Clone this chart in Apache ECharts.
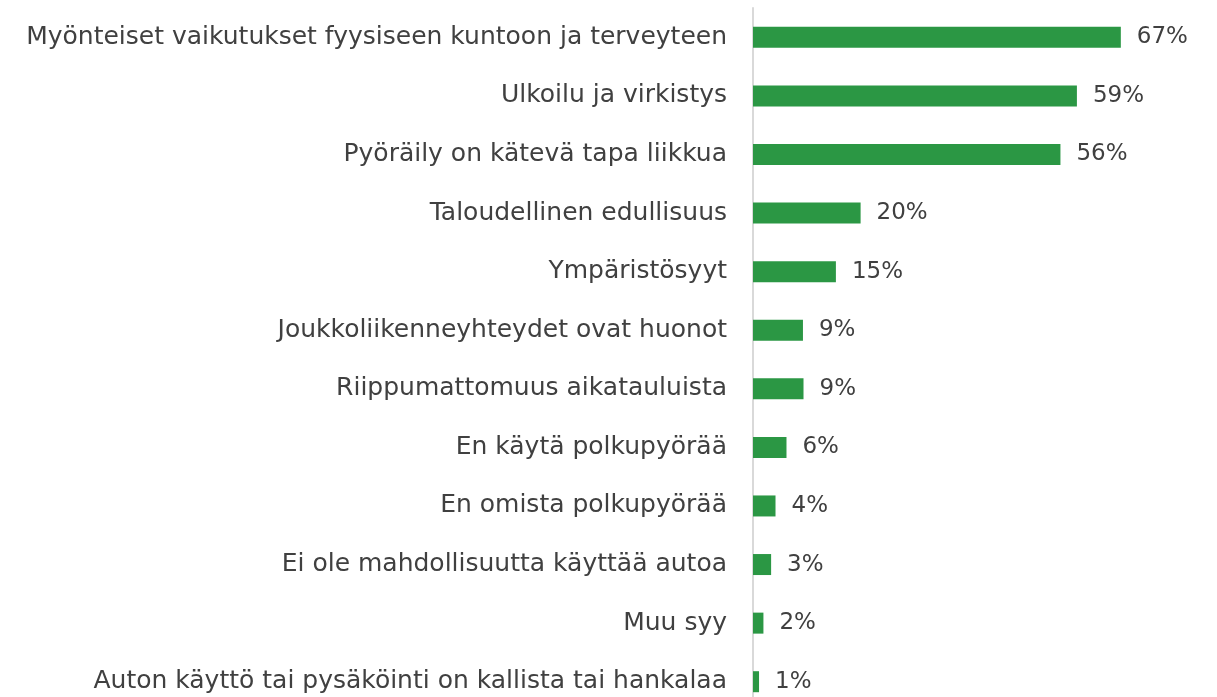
<!DOCTYPE html>
<html>
<head>
<meta charset="utf-8">
<script src="https://cdn.jsdelivr.net/npm/echarts@6/dist/echarts.min.js"></script>
<style>
html, body { margin: 0; padding: 0; background: #fff; }
#main { width: 1217px; height: 697px; }
</style>
</head>
<body>
<div id="main"></div>
<script>
var categories = [
    'Myönteiset vaikutukset fyysiseen kuntoon ja terveyteen',
    'Ulkoilu ja virkistys',
    'Pyöräily on kätevä tapa liikkua',
    'Taloudellinen edullisuus',
    'Ympäristösyyt',
    'Joukkoliikenneyhteydet ovat huonot',
    'Riippumattomuus aikatauluista',
    'En käytä polkupyörää',
    'En omista polkupyörää',
    'Ei ole mahdollisuutta käyttää autoa',
    'Muu syy',
    'Auton käyttö tai pysäköinti on kallista tai hankalaa'
];
var values = [67, 59, 56, 19.6, 15.1, 9.1, 9.2, 6.1, 4.1, 3.3, 1.9, 1.1];
var labels = ['67%', '59%', '56%', '20%', '15%', '9%', '9%', '6%', '4%', '3%', '2%', '1%'];

var myChart = echarts.init(document.getElementById('main'));
var textFont = 'DejaVu Sans';

var option = {
    animation: false,
    grid: {
        left: 753,
        top: 8,
        width: 549,
        height: 703,
        outerBoundsMode: 'none'
    },
    xAxis: {
        type: 'value',
        min: 0,
        max: 100,
        show: false
    },
    yAxis: {
        type: 'category',
        inverse: true,
        data: categories,
        axisLine: { show: true, lineStyle: { color: '#d9d9d9', width: 2 } },
        axisTick: { show: false },
        axisLabel: {
            margin: 26,
            color: '#404040',
            fontSize: 25,
            fontFamily: textFont
        }
    },
    series: [
        {
            type: 'bar',
            data: values,
            barWidth: 21,
            itemStyle: { color: '#2b9744' },
            label: {
                show: true,
                position: 'right',
                distance: 16,
                color: '#404040',
                fontSize: 23,
                fontFamily: textFont,
                formatter: function (p) { return labels[p.dataIndex]; }
            }
        }
    ]
};

myChart.setOption(option);
</script>
</body>
</html>
